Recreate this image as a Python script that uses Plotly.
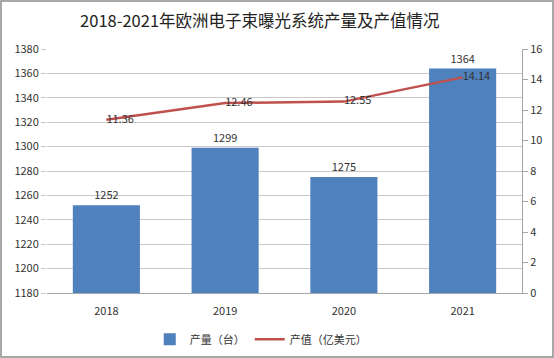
import plotly.graph_objects as go

years = ["2018", "2019", "2020", "2021"]
output_units = [1252, 1299, 1275, 1364]
output_value = [11.36, 12.46, 12.55, 14.14]
left_ticks = list(range(1180, 1381, 20))
right_ticks = list(range(0, 17, 2))

font_family = "Noto Sans CJK SC, Noto Sans, sans-serif"

L, R, T, B = 47, 32, 49, 65
W, H = 554, 358
pw, ph = W - L - R, H - T - B

fig = go.Figure()
fig.add_trace(go.Bar(
    x=years, y=output_units, name="产量（台）",
    marker=dict(color="#4F81BD", line=dict(width=0)),
    width=0.565,
    text=[str(v) for v in output_units], textposition="outside",
    textfont=dict(size=11, color="#333333"), cliponaxis=False,
))
fig.add_trace(go.Scatter(
    x=years, y=output_value, name="产值（亿美元）", yaxis="y2",
    mode="lines+text", line=dict(color="#C0504D", width=2.5),
    text=[f"{v:.2f}" for v in output_value], textposition="middle right",
    textfont=dict(size=11, color="#333333"), cliponaxis=False,
))

fig.update_layout(
    width=W, height=H,
    margin=dict(l=L, r=R, t=T, b=B, autoexpand=False),
    paper_bgcolor="white", plot_bgcolor="white",
    font=dict(family=font_family, size=11, color="#333333"),
    title=dict(text="2018-2021年欧洲电子束曝光系统产量及产值情况", x=0.469, xanchor="center",
               y=0.94, yanchor="middle", font=dict(size=16.5, color="#222222")),
    xaxis=dict(showgrid=False, showline=True, linecolor="#A6A6A6", ticks="",
               tickfont=dict(size=11), automargin=False, ticklabelstandoff=8),
    yaxis=dict(range=[1180, 1380], tickvals=left_ticks, showgrid=True, gridcolor="#C8C8C8",
               zeroline=False, showline=False, ticks="outside", tickcolor="#C8C8C8", ticklen=5,
               tickfont=dict(size=11), automargin=False),
    yaxis2=dict(range=[0, 16], tickvals=right_ticks, overlaying="y", side="right",
                showgrid=False, zeroline=False, showline=True, linecolor="#A6A6A6",
                ticks="outside", tickcolor="#A6A6A6", ticklen=5, tickfont=dict(size=11),
                automargin=False),
    legend=dict(orientation="h", x=0.45, xanchor="center", y=-0.13, yanchor="top",
                font=dict(size=11), itemwidth=30),
    shapes=[dict(type="rect", xref="paper", yref="paper",
                 x0=-(L - 1) / pw, x1=1 + (R - 1) / pw, y0=-(B - 1) / ph, y1=1 + (T - 1) / ph,
                 line=dict(color="#8C8C8C", width=1.5))],
)

fig.write_html("out.html", config={"displayModeBar": False},
               post_script="document.body.style.margin='0';document.body.style.overflow='hidden';")
